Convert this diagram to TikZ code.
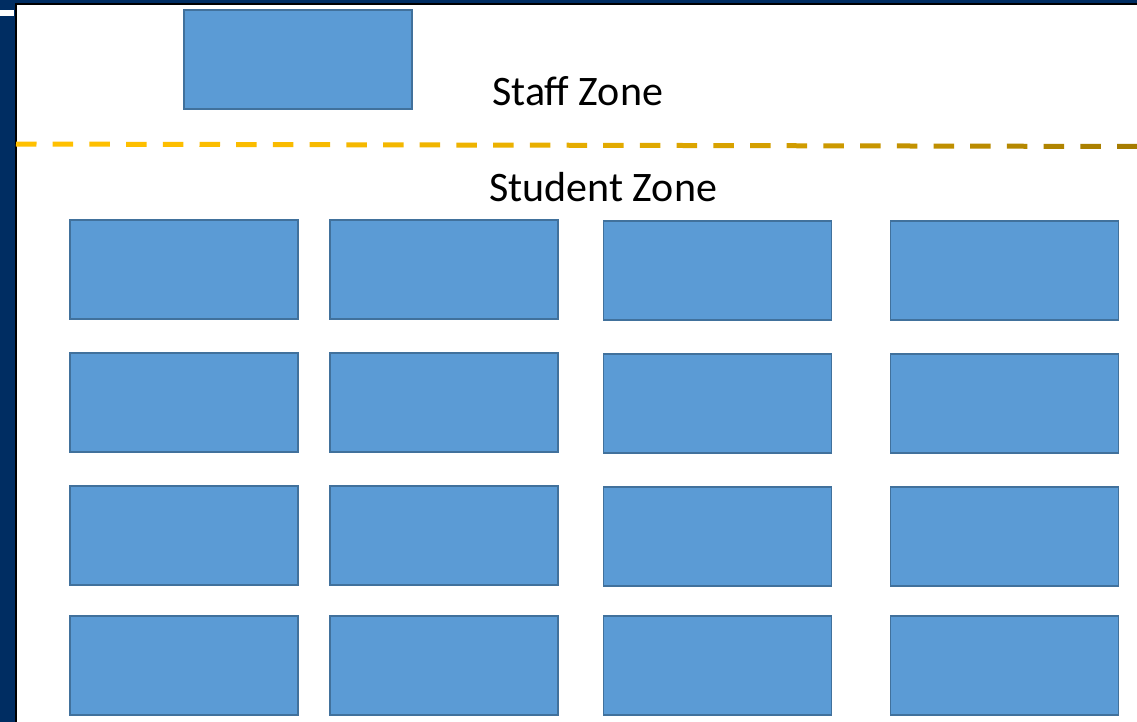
\documentclass[tikz,border=0pt]{standalone}
\usepackage{fontspec}
\setmainfont{Carlito}
\definecolor{navy}{RGB}{0,45,98}
\definecolor{boxfill}{RGB}{91,155,213}
\definecolor{boxline}{RGB}{65,113,156}
\definecolor{dashA}{RGB}{255,192,0}
\definecolor{dashB}{RGB}{166,124,0}
\tikzset{
  desk/.style={draw=boxline, line width=1.5pt, fill=boxfill, minimum width=228pt, minimum height=99pt, inner sep=0pt, outer sep=0pt},
  zonelabel/.style={anchor=base west, inner sep=0pt, font=\fontsize{42}{42}\selectfont, text=black}
}
\begin{document}
\begin{tikzpicture}[x=1pt,y=-1pt]
\useasboundingbox (0,0) rectangle (1137,722);
% frame
\fill[navy] (0,0) rectangle (1137,722);
\fill[black] (15,3) rectangle (1137,722);
\fill[white] (17,5) rectangle (1137,722);
\fill[white] (0,10) rectangle (14,16);
% dashed divider with colour gradient
\foreach \i in {0,...,30}{
  \pgfmathsetmacro{\xa}{16+36.7*\i}
  \pgfmathsetmacro{\xb}{min(\xa+20.5,1137)}
  \pgfmathsetmacro{\t}{100*(\i/30)^1.8}
  \pgfmathsetmacro{\ya}{144+2.5*\xa/1137}
  \pgfmathsetmacro{\yb}{144+2.5*\xb/1137}
  \ifdim\xa pt<1137pt
    \draw[line width=5pt, color=dashB!\t!dashA] (\xa,\ya) -- (\xb,\yb);
  \fi
}
% labels
\node[zonelabel] (staff) at (492,106) {Staff Zone};
\node[zonelabel] (student) at (489,201) {Student Zone};
% staff desk
\node[desk] (sdesk) at (298,59.5) {};
% student desks
\foreach \c/\x/\dy in {1/184/0,2/444/0,3/717.5/1,4/1004.5/1}{
  \node[desk] (d\c-1) at (\x,269.5+\dy) {};
  \node[desk] (d\c-2) at (\x,402.5+\dy) {};
  \node[desk] (d\c-3) at (\x,535.5+\dy) {};
  \node[desk] (d\c-4) at (\x,665.5) {};
}
\end{tikzpicture}
\end{document}
